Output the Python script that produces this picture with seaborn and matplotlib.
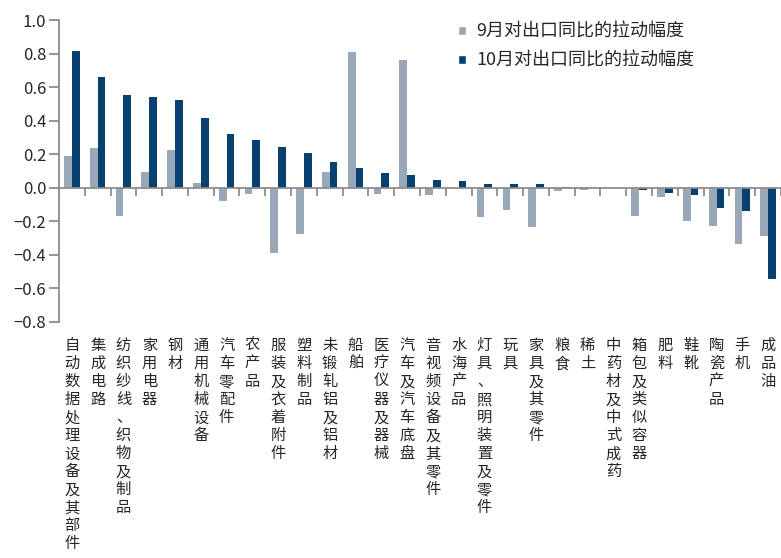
import pandas as pd
import seaborn as sns
import matplotlib.pyplot as plt
from matplotlib.transforms import blended_transform_factory
from matplotlib.patches import Patch

# categories and values
categories = ['自动数据处理设备及其部件', '集成电路', '纺织纱线、织物及制品', '家用电器', '钢材',
              '通用机械设备', '汽车零配件', '农产品', '服装及衣着附件', '塑料制品', '未锻轧铝及铝材',
              '船舶', '医疗仪器及器械', '汽车及汽车底盘', '音视频设备及其零件', '水海产品',
              '灯具、照明装置及零件', '玩具', '家具及其零件', '粮食', '稀土', '中药材及中式成药',
              '箱包及类似容器', '肥料', '鞋靴', '陶瓷产品', '手机', '成品油']
sep_vals = [0.19, 0.238, -0.17, 0.096, 0.226, 0.026, -0.08, -0.034, -0.386, -0.275, 0.096,
            0.808, -0.034, 0.76, -0.042, 0.0, -0.172, -0.132, -0.236, -0.022, -0.012, 0.0,
            -0.166, -0.052, -0.196, -0.226, -0.333, -0.29]
oct_vals = [0.816, 0.659, 0.551, 0.539, 0.521, 0.417, 0.321, 0.283, 0.241, 0.206, 0.152,
            0.118, 0.088, 0.078, 0.046, 0.038, 0.022, 0.02, 0.02, 0.002, 0.0, 0.0,
            -0.012, -0.032, -0.04, -0.12, -0.138, -0.541]
series_names = ['9月对出口同比的拉动幅度', '10月对出口同比的拉动幅度']
colors = ['#98A8B9', '#08416F']
yticks = [-0.8, -0.6, -0.4, -0.2, 0.0, 0.2, 0.4, 0.6, 0.8, 1.0]

df = pd.DataFrame({'cat': categories * 2,
                   'val': sep_vals + oct_vals,
                   'series': [series_names[0]] * len(categories) + [series_names[1]] * len(categories)})

sns.set_style('white')
plt.rcParams['font.family'] = ['Noto Sans CJK SC', 'DejaVu Sans']

fig = plt.figure(figsize=(7.81, 5.58), dpi=100)
ax = fig.add_axes([0.0755, 0.423, 1 - 0.0755, 0.541])
sns.barplot(data=df, x='cat', y='val', hue='series', order=categories, hue_order=series_names,
            palette=colors, width=0.6, gap=0, saturation=1, ax=ax, legend=False, linewidth=0)

ax.set_ylim(-0.8, 1.0)
ax.set_xlim(-0.5, 27.28)
ax.set_yticks(yticks)
ax.set_yticklabels([f'{t:.1f}'.replace('-', '\u2212') for t in yticks], fontsize=12)
ax.set_xlabel('')
ax.set_ylabel('')

for s in ['top', 'right']:
    ax.spines[s].set_visible(False)
ax.spines['left'].set_color('#8C8C8C')
ax.spines['left'].set_linewidth(1.3)
ax.spines['bottom'].set_position(('data', 0))
ax.spines['bottom'].set_color('#8C8C8C')
ax.spines['bottom'].set_linewidth(1.3)
ax.tick_params(axis='y', direction='out', length=7, width=1.3, color='#8C8C8C', pad=2, left=True)
ax.set_xticks([i + 0.5 for i in range(-1, len(categories))])
ax.set_xticklabels([])
ax.tick_params(axis='x', direction='out', length=5.5, width=1.3, color='#8C8C8C', bottom=True)

# vertical stacked category labels
trans = blended_transform_factory(ax.transData, ax.transAxes)
for i, c in enumerate(categories):
    ax.text(i, -0.05, '\n'.join(c), transform=trans, ha='center', va='top',
            fontsize=11, linespacing=1.08, clip_on=False)

handles = [Patch(facecolor=colors[0]), Patch(facecolor=colors[1])]
fig.legend(handles, series_names, loc='upper left', bbox_to_anchor=(458 / 781, 1 - 23 / 558),
           bbox_transform=fig.transFigure, frameon=False, borderpad=0, borderaxespad=0,
           fontsize=13, handlelength=0.45, handleheight=0.45, handletextpad=0.55, labelspacing=0.6)

fig.savefig('out.png', dpi=100)
